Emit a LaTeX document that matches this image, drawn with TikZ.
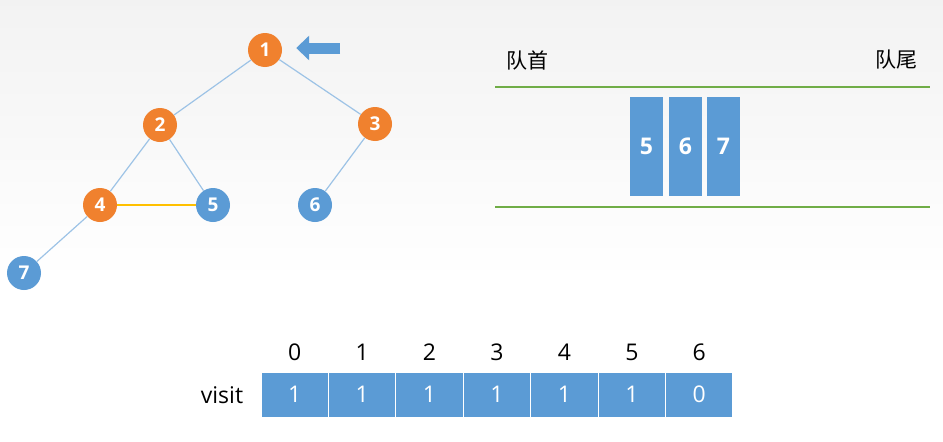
\documentclass[tikz,border=0pt]{standalone}
\usepackage{fontspec}
\setmainfont{Open Sans}
\newfontfamily\cjk{Noto Sans CJK SC}
\usetikzlibrary{arrows.meta}
\definecolor{vorange}{HTML}{F0812E}
\definecolor{vblue}{HTML}{5B9BD5}
\definecolor{vedge}{HTML}{9DC3E6}
\definecolor{vgreen}{HTML}{70AD47}
\definecolor{vyellow}{HTML}{FFC000}
\tikzset{
  vertex/.style={circle,minimum size=34pt,inner sep=0pt,text=white,font=\fontsize{19}{19}\selectfont\bfseries},
  done/.style={vertex,fill=vorange},
  fresh/.style={vertex,fill=vblue},
  edge/.style={vedge,line width=1.2pt},
  slot/.style={rectangle,fill=vblue,minimum width=33pt,minimum height=99pt,inner sep=0pt,text=white,font=\fontsize{23}{23}\selectfont\bfseries},
  cell/.style={rectangle,fill=vblue,draw=white,line width=1pt,minimum width=67.4pt,minimum height=45pt,inner sep=0pt,text=white,font=\fontsize{23}{23}\selectfont},
  index/.style={font=\fontsize{23}{23}\selectfont}
}
\begin{document}
\begin{tikzpicture}[x=1pt,y=-1pt]
    % background
    \shade[top color=black!5,bottom color=white] (0,0) rectangle (943,280);
    \fill[white] (0,280) rectangle (943,442);
    \useasboundingbox (0,0) rectangle (943,442);
    % graph
    \node[done] (n1) at (265,50) {1};
    \node[done] (n2) at (160,125) {2};
    \node[done] (n3) at (375,124) {3};
    \node[done] (n4) at (100,205) {4};
    \node[fresh] (n5) at (213,205) {5};
    \node[fresh] (n6) at (315,205) {6};
    \node[fresh] (n7) at (24,273) {7};
    \draw[edge] (n1) -- (n2);
    \draw[edge] (n1) -- (n3);
    \draw[edge] (n2) -- (n4);
    \draw[edge] (n2) -- (n5);
    \draw[edge] (n3) -- (n6);
    \draw[edge] (n4) -- (n7);
    \draw[vyellow,line width=1.5pt] (n4) -- (n5);
    % pointer
    \coordinate (ptr) at (340,48);
    \draw[vblue,line width=11pt,-{Triangle[length=13pt,width=24pt]},shorten >=14pt] (ptr) -- (n1.east |- ptr);
    % queue
    \node[font=\cjk\fontsize{21}{21}\selectfont] (head) at (527,60) {队首};
    \node[font=\cjk\fontsize{21}{21}\selectfont] (tail) at (896,60) {队尾};
    \coordinate (qa) at (495,87);
    \coordinate (qb) at (930,87);
    \coordinate (qc) at (495,207);
    \coordinate (qd) at (930,207);
    \draw[vgreen,line width=2.5pt] (qa) -- (qb);
    \draw[vgreen,line width=2.5pt] (qc) -- (qd);
    \node[slot] (q5) at (646.5,146.5) {5};
    \node[slot] (q6) at (685.5,146.5) {6};
    \node[slot] (q7) at (723.5,146.5) {7};
    % visit array
    \node[index] (visit) at (222,395) {visit};
    \foreach \i/\v in {0/1,1/1,2/1,3/1,4/1,5/1,6/0} {
        \node[cell] (c\i) at (294.7+67.43*\i,394.5) {\v};
        \node[index] at (294.7+67.43*\i,352) {\i};
    }
\end{tikzpicture}
\end{document}
